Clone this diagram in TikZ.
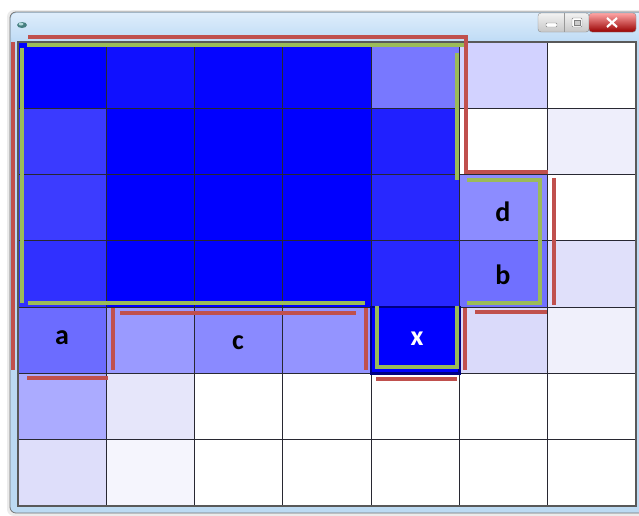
\documentclass[tikz,border=0pt]{standalone}
\usepackage{fontspec}
\newfontfamily\lblfont{Carlito}
\definecolor{redline}{HTML}{C0504D}
\definecolor{greenline}{HTML}{9BBB59}
\definecolor{framebl}{RGB}{188,218,242}
\definecolor{titletop}{RGB}{222,237,251}
\definecolor{titlebot}{RGB}{190,219,245}
\definecolor{gridgray}{RGB}{40,40,50}
\definecolor{navy}{RGB}{0,0,130}
\begin{document}
\begin{tikzpicture}[x=1pt,y=-1pt,
  redseg/.style={draw=redline,line width=4.4pt,line cap=butt,line join=miter},
  greenseg/.style={draw=greenline,line width=4.4pt,line cap=butt,line join=miter},
  lbl/.style={font=\lblfont\bfseries\fontsize{28}{30}\selectfont,inner sep=0pt,text=black},
  gridline/.style={draw=gridgray,line width=1.2pt}]
\useasboundingbox (0,0) rectangle (639,515);
\fill[white] (0,0) rectangle (639,515);
% soft shadow
\fill[black!8,rounded corners=7] (7,10) rectangle (650,516);
% window frame
\draw[draw=black!55,fill=framebl,rounded corners=6,line width=0.8pt] (10,12) rectangle (650,513);
\shade[top color=titletop,bottom color=titlebot,rounded corners=5] (11,13) rectangle (649,42);
% title icon
\fill[teal!45!gray] (22,25) ellipse (5 and 3);
\fill[white!70!teal] (21,24) ellipse (2.5 and 1.5);
% window buttons
\shade[top color=black!5,bottom color=black!22,rounded corners=3,draw=black!45] (538,13) rectangle (589,32);
\draw[black!40] (564,13) -- (564,32);
\shade[top color=red!35!white,bottom color=red!60!black,draw=black!45,rounded corners=3] (589,13) rectangle (636,32);
\draw[black!50,fill=white,rounded corners=1] (546,23) rectangle (557,27);
\draw[black!50,fill=white,rounded corners=1] (572,18) rectangle (582,27);
\draw[black!50,fill=black!20] (574,20) rectangle (580,25);
\draw[white,line width=2.2pt] (607,18) -- (617,27) (617,18) -- (607,27);
% grid cells
\def\cw{88.2857}
\def\ch{66.2857}
\foreach \row/\cols in {
  0/{0000FF,1010FF,0505FF,0505FF,7878FF,D2D2FF,FFFFFF},
  1/{3A3AFF,0000FF,0000FF,0000FF,2020FF,FFFFFF,EEEEFB},
  2/{3C3CFF,0000FF,0000FF,0000FF,2828FF,8C8CFF,FFFFFF},
  3/{3030FF,0000FF,0000FF,0000FF,2828FF,7070FF,E0E0FA},
  4/{6C6CFF,9A9AFF,8A8AFF,9494FF,0000FF,DADAFA,F0F0FB},
  5/{ABABFF,E6E6FA,FFFFFF,FFFFFF,FFFFFF,FFFFFF,FFFFFF},
  6/{DEDEFA,F5F5FD,FFFFFF,FFFFFF,FFFFFF,FFFFFF,FFFFFF}} {
  \foreach \hex [count=\c from 0] in \cols {
    \definecolor{cellc}{HTML}{\hex}
    \fill[cellc] ({18+\c*\cw},{42+\row*\ch}) rectangle ({18+(\c+1)*\cw},{42+(\row+1)*\ch});
  }
}
% grid lines
\foreach \i in {1,...,6} {
  \draw[gridline] ({18+\i*\cw},42) -- ({18+\i*\cw},506);
  \draw[gridline] (18,{42+\i*\ch}) -- (636,{42+\i*\ch});
}
\draw[draw=black!65,line width=1.6pt] (18,42) rectangle (636,506);
% x cell border
\draw[navy,line width=2.4pt] ({18+4*\cw},{42+4*\ch}) rectangle ({18+5*\cw},{42+5*\ch});
% green outlines
\draw[greenseg] (27,45) -- (464,45);
\draw[greenseg] (22,48) -- (22,303);
\draw[greenseg] (28,303) -- (365,303);
\draw[greenseg] (457,53) -- (457,180);
\draw[greenseg] (467,180) -- (540,180) -- (540,303) -- (467,303);
\draw[greenseg] (377,306) -- (377,367) -- (457,367) -- (457,306);
% red outlines
\draw[redseg] (28,37) -- (466,37) -- (466,172) -- (548,172);
\draw[redseg] (13,42) -- (13,370);
\draw[redseg] (554,178) -- (554,305);
\draw[redseg] (475,312) -- (547,312);
\draw[redseg] (465,308) -- (465,370);
\draw[redseg] (376,379) -- (457,379);
\draw[redseg] (366,308) -- (366,370);
\draw[redseg] (120,313) -- (356,313);
\draw[redseg] (113,308) -- (113,370);
\draw[redseg] (27,378) -- (108,378);
% labels
\node[lbl] (la) at (62,338) {a};
\node[lbl] (lc) at (238,343) {c};
\node[lbl,text=white] (lx) at (417,339) {x};
\node[lbl] (ld) at (503,212) {d};
\node[lbl] (lb) at (503,275) {b};
\end{tikzpicture}
\end{document}
